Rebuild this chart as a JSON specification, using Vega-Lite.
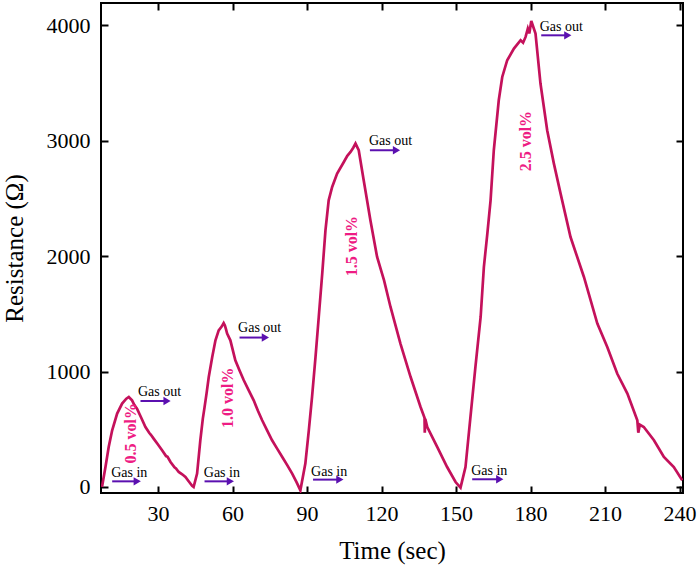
{
  "$schema": "https://vega.github.io/schema/vega-lite/v6.json",
  "width": 582,
  "height": 490,
  "autosize": "none",
  "padding": {"left": 101, "top": 3, "right": 16, "bottom": 77},
  "background": "white",
  "datasets": {
    "curve": [
      {"t": 7.4, "r": 0}, {"t": 8.8, "r": 173}, {"t": 10.1, "r": 347}, {"t": 11.5, "r": 491},
      {"t": 13.5, "r": 636}, {"t": 15.5, "r": 723}, {"t": 17.2, "r": 765}, {"t": 18.2, "r": 780},
      {"t": 19.5, "r": 751}, {"t": 20.4, "r": 712}, {"t": 21.5, "r": 679}, {"t": 23.2, "r": 600},
      {"t": 24.9, "r": 520}, {"t": 26.4, "r": 470}, {"t": 27.1, "r": 452}, {"t": 28.2, "r": 419},
      {"t": 29.8, "r": 372}, {"t": 31.6, "r": 318}, {"t": 33.2, "r": 268}, {"t": 33.8, "r": 262},
      {"t": 35.0, "r": 217}, {"t": 36.6, "r": 170}, {"t": 37.2, "r": 160}, {"t": 38.3, "r": 130},
      {"t": 39.7, "r": 110}, {"t": 41.0, "r": 87}, {"t": 42.3, "r": 50}, {"t": 43.7, "r": 10},
      {"t": 44.3, "r": 0}, {"t": 45.7, "r": 116}, {"t": 47.0, "r": 405}, {"t": 48.0, "r": 590},
      {"t": 48.7, "r": 690}, {"t": 49.5, "r": 809}, {"t": 50.4, "r": 953}, {"t": 51.8, "r": 1127},
      {"t": 53.1, "r": 1271}, {"t": 54.4, "r": 1358}, {"t": 55.6, "r": 1390}, {"t": 56.4, "r": 1421},
      {"t": 56.9, "r": 1400}, {"t": 57.3, "r": 1370}, {"t": 57.8, "r": 1329}, {"t": 59.1, "r": 1271},
      {"t": 61.1, "r": 1098}, {"t": 62.8, "r": 1010}, {"t": 64.5, "r": 925}, {"t": 66.5, "r": 838},
      {"t": 68.5, "r": 751}, {"t": 70.2, "r": 660}, {"t": 71.9, "r": 578}, {"t": 73.9, "r": 490},
      {"t": 75.9, "r": 405}, {"t": 78.0, "r": 330}, {"t": 80.0, "r": 260}, {"t": 82.0, "r": 190},
      {"t": 84.0, "r": 116}, {"t": 85.8, "r": 40}, {"t": 87.3, "r": -29}, {"t": 89.3, "r": 203},
      {"t": 90.7, "r": 491}, {"t": 92.0, "r": 780}, {"t": 93.4, "r": 1127}, {"t": 94.7, "r": 1473},
      {"t": 96.1, "r": 1849}, {"t": 97.4, "r": 2224}, {"t": 98.7, "r": 2484}, {"t": 100.1, "r": 2600},
      {"t": 102.1, "r": 2716}, {"t": 104.8, "r": 2816}, {"t": 106.2, "r": 2870}, {"t": 107.5, "r": 2903},
      {"t": 108.6, "r": 2940}, {"t": 109.5, "r": 2976}, {"t": 110.8, "r": 2918}, {"t": 112.8, "r": 2658},
      {"t": 115.5, "r": 2311}, {"t": 118.2, "r": 1993}, {"t": 121.0, "r": 1791}, {"t": 123.6, "r": 1560},
      {"t": 127.6, "r": 1243}, {"t": 131.7, "r": 953}, {"t": 135.7, "r": 693}, {"t": 137.3, "r": 600},
      {"t": 137.4, "r": 470}, {"t": 137.6, "r": 590}, {"t": 138.4, "r": 520}, {"t": 142.4, "r": 347},
      {"t": 146.4, "r": 173}, {"t": 149.8, "r": 43}, {"t": 151.8, "r": -5}, {"t": 153.8, "r": 173},
      {"t": 155.8, "r": 607}, {"t": 157.8, "r": 1040}, {"t": 159.9, "r": 1473}, {"t": 161.2, "r": 1906},
      {"t": 162.6, "r": 2196}, {"t": 163.9, "r": 2484}, {"t": 165.2, "r": 2918}, {"t": 167.2, "r": 3351},
      {"t": 168.6, "r": 3553}, {"t": 170.6, "r": 3698}, {"t": 173.3, "r": 3799}, {"t": 176.0, "r": 3871},
      {"t": 177.0, "r": 3850}, {"t": 178.0, "r": 3900}, {"t": 178.9, "r": 3972}, {"t": 179.5, "r": 3930},
      {"t": 180.3, "r": 4038}, {"t": 182.0, "r": 3929}, {"t": 184.0, "r": 3496}, {"t": 186.7, "r": 3091},
      {"t": 189.4, "r": 2802}, {"t": 192.1, "r": 2542}, {"t": 196.1, "r": 2166}, {"t": 201.5, "r": 1820},
      {"t": 206.9, "r": 1416}, {"t": 210.9, "r": 1213}, {"t": 214.9, "r": 983}, {"t": 219.0, "r": 809},
      {"t": 223.0, "r": 578}, {"t": 223.4, "r": 470}, {"t": 224.0, "r": 540}, {"t": 225.6, "r": 520},
      {"t": 229.7, "r": 405}, {"t": 233.7, "r": 260}, {"t": 237.7, "r": 173}, {"t": 241.1, "r": 58}
    ],
    "notes": [
      {"t": 11.1, "r": 121, "label": "Gas in"},
      {"t": 48.4, "r": 121, "label": "Gas in"},
      {"t": 91.6, "r": 130, "label": "Gas in"},
      {"t": 156.1, "r": 139, "label": "Gas in"},
      {"t": 21.9, "r": 823, "label": "Gas out"},
      {"t": 62.2, "r": 1381, "label": "Gas out"},
      {"t": 114.9, "r": 2996, "label": "Gas out"},
      {"t": 183.7, "r": 3986, "label": "Gas out"}
    ],
    "arrows": [
      {"t": 11.5, "t2": 21.6, "r": 49},
      {"t": 48.7, "t2": 59.1, "r": 49},
      {"t": 92.4, "t2": 103.2, "r": 64},
      {"t": 156.5, "t2": 167.6, "r": 67},
      {"t": 22.9, "t2": 33.6, "r": 745},
      {"t": 62.8, "t2": 73.2, "r": 1295},
      {"t": 115.3, "t2": 126.0, "r": 2918},
      {"t": 184.3, "t2": 195.0, "r": 3914}
    ],
    "conc": [
      {"t": 19.0, "r": 465, "label": "0.5 vol%"},
      {"t": 58.1, "r": 773, "label": "1.0 vol%"},
      {"t": 108.2, "r": 2087, "label": "1.5 vol%"},
      {"t": 178.0, "r": 2997, "label": "2.5 vol%"}
    ]
  },
  "layer": [
    {
      "layer": [
        {
          "data": {"name": "curve"},
          "mark": {"type": "line", "color": "#c4115b", "strokeWidth": 2.7, "clip": true},
          "encoding": {
            "x": {
              "field": "t", "type": "quantitative", "title": "Time (sec)",
              "scale": {"domain": [7, 241.4], "nice": false, "zero": false},
              "axis": {"orient": "bottom", "values": [30, 60, 90, 120, 150, 180, 210, 240], "format": "d", "labelPadding": 17, "titlePadding": 14}
            },
            "y": {
              "field": "r", "type": "quantitative", "title": "Resistance (Ω)",
              "scale": {"domain": [-52, 4194], "nice": false, "zero": false},
              "axis": {"orient": "left", "values": [0, 1000, 2000, 3000, 4000], "format": "d", "labelPadding": 18, "titlePadding": 19}
            }
          }
        },
        {
          "data": {"name": "arrows"},
          "mark": {"type": "rule", "color": "#5b10b0", "strokeWidth": 2},
          "encoding": {
            "x": {"field": "t", "type": "quantitative", "title": "Time (sec)"},
            "x2": {"field": "t2"},
            "y": {"field": "r", "type": "quantitative", "title": "Resistance (Ω)"}
          }
        },
        {
          "data": {"name": "arrows"},
          "mark": {"type": "point", "shape": "triangle-right", "filled": true, "color": "#5b10b0", "size": 70, "opacity": 1},
          "encoding": {
            "x": {"field": "t2", "type": "quantitative", "title": "Time (sec)"},
            "y": {"field": "r", "type": "quantitative", "title": "Resistance (Ω)"}
          }
        },
        {
          "data": {"name": "notes"},
          "mark": {"type": "text", "align": "left", "baseline": "middle", "font": "Liberation Serif", "fontSize": 14, "color": "black"},
          "encoding": {
            "x": {"field": "t", "type": "quantitative", "title": "Time (sec)"},
            "y": {"field": "r", "type": "quantitative", "title": "Resistance (Ω)"},
            "text": {"field": "label"}
          }
        },
        {
          "data": {"name": "conc"},
          "mark": {"type": "text", "angle": 270, "align": "center", "baseline": "middle", "font": "Liberation Serif", "fontSize": 16, "fontWeight": "bold", "color": "#ee1c84"},
          "encoding": {
            "x": {"field": "t", "type": "quantitative", "title": "Time (sec)"},
            "y": {"field": "r", "type": "quantitative", "title": "Resistance (Ω)"},
            "text": {"field": "label"}
          }
        }
      ]
    },
    {
      "data": {"name": "curve"},
      "mark": {"type": "line", "opacity": 0},
      "encoding": {
        "x": {"field": "t", "type": "quantitative", "axis": {"orient": "top", "values": [30, 60, 90, 120, 150, 180, 210, 240], "labels": false, "title": null}},
        "y": {"field": "r", "type": "quantitative", "axis": {"orient": "right", "values": [0, 1000, 2000, 3000, 4000], "labels": false, "title": null}}
      }
    }
  ],
  "resolve": {"axis": {"x": "independent", "y": "independent"}},
  "config": {
    "view": {"stroke": "black", "strokeWidth": 2},
    "axis": {
      "domain": false,
      "grid": false,
      "ticks": true,
      "tickSize": -7,
      "tickWidth": 2,
      "tickColor": "black",
      "labelFont": "Liberation Serif",
      "labelFontSize": 22,
      "labelColor": "black",
      "titleFont": "Liberation Serif",
      "titleFontSize": 25,
      "titleFontWeight": "normal",
      "titleColor": "black"
    }
  }
}
